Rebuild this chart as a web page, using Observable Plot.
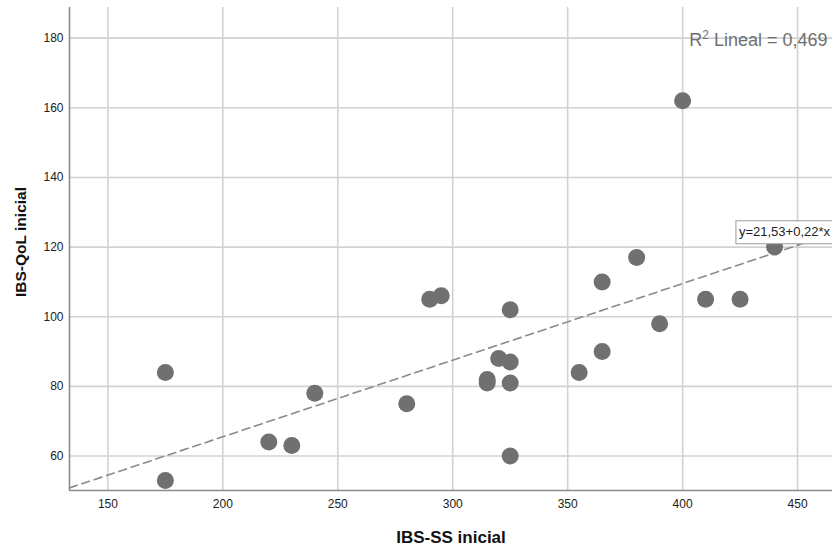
<!DOCTYPE html>
<html>
<head>
<meta charset="utf-8">
<script src="https://cdn.jsdelivr.net/npm/d3@7"></script>
<script src="https://cdn.jsdelivr.net/npm/@observablehq/plot@0.6"></script>
<style>
  html, body { margin: 0; padding: 0; background: #fff; overflow: hidden; }
  #chart svg { display: block; }
</style>
</head>
<body>
<div id="chart"></div>
<script>
// IBS-SS (severity score) vs IBS-QoL at baseline, one value per patient
const ibsSS  = [175, 175, 220, 230, 240, 280, 290, 295, 315, 315, 320, 325, 325, 325, 325, 355, 365, 365, 380, 390, 400, 410, 425, 440];
const ibsQoL = [ 53,  84,  64,  63,  78,  75, 105, 106,  82,  81,  88, 102,  87,  81,  60,  84, 110,  90, 117,  98, 162, 105, 105, 120];

// Linear fit reported on the chart
const fitIntercept = 21.53;
const fitSlope = 0.22;
const rSquared = 0.469;

const xTicks = [150, 200, 250, 300, 350, 400, 450];
const yTicks = [60, 80, 100, 120, 140, 160, 180];
const xDomain = [133.3, 465.2];
const yDomain = [50.1, 188.8];

const xTitle = "IBS-SS inicial";
const yTitle = "IBS-QoL inicial";
const fmt = (v, d) => v.toFixed(d).replace(".", ",");
const r2Rest = ` Lineal = ${fmt(rSquared, 3)}`;
const r2Label = `R2${r2Rest}`;
const eqLabel = `y=${fmt(fitIntercept, 2)}+${fmt(fitSlope, 2)}*x`;
// where the equation tag sits, in data units
const eqAnchor = {x: 424.5, y: 123.1};

const points = ibsSS.map((x, i) => ({x, y: ibsQoL[i]}));
const fitLine = xDomain.map(x => ({x, y: fitIntercept + fitSlope * x}));

const font = "'Liberation Sans', Arial, Helvetica, sans-serif";

const chart = Plot.plot({
  width: 832,
  height: 551,
  marginLeft: 69,
  marginRight: 0,
  marginTop: 7,
  marginBottom: 61,
  style: {fontFamily: font, fontSize: "12px", color: "#222", background: "#fff", overflow: "visible"},
  x: {domain: xDomain},
  y: {domain: yDomain},
  marks: [
    Plot.gridX(xTicks, {stroke: "#d2d2d2", strokeOpacity: 1, strokeWidth: 1.6}),
    Plot.gridY(yTicks, {stroke: "#d2d2d2", strokeOpacity: 1, strokeWidth: 1.6}),
    Plot.ruleX([xDomain[0]], {stroke: "#8c8c8c", strokeWidth: 1.6}),
    Plot.ruleY([yDomain[0]], {stroke: "#8c8c8c", strokeWidth: 1.6}),
    Plot.line(fitLine, {x: "x", y: "y", stroke: "#8a8a8a", strokeWidth: 1.6, strokeDasharray: "8,5"}),
    Plot.dot(points, {x: "x", y: "y", r: 8.5, fill: "#707070", stroke: "none"}),
    Plot.text([eqLabel], {
      x: () => eqAnchor.x, y: () => eqAnchor.y, text: d => d,
      textAnchor: "start", lineAnchor: "bottom", fontSize: 13, fill: "#222"
    }),
    Plot.text([r2Label], {
      frameAnchor: "top-right", text: d => d, textAnchor: "end", lineAnchor: "bottom",
      dx: -5, dy: 38, fontSize: 18, fill: "#707070"
    }),
    Plot.axisX(xTicks, {tickSize: 0, tickPadding: 9, label: null, fontSize: 12, fill: "#222"}),
    Plot.axisY(yTicks, {tickSize: 0, tickPadding: 6, label: null, fontSize: 12, fill: "#222"}),
    Plot.text([xTitle], {
      frameAnchor: "bottom", text: d => d, textAnchor: "middle", lineAnchor: "bottom", dy: 52,
      fontSize: 17, fontWeight: "bold", fill: "#111"
    }),
    Plot.text([yTitle], {
      frameAnchor: "left", text: d => d, textAnchor: "middle", lineAnchor: "bottom", rotate: -90,
      dx: -44, dy: -7, fontSize: 15.5, fontWeight: "bold", fill: "#111"
    })
  ]
});

document.getElementById("chart").append(chart);

const svgText = d3.select(chart).selectAll("text");

// white box with a grey border behind the equation tag
svgText.filter(function () { return this.textContent === eqLabel; }).each(function () {
  const bb = this.getBBox();
  d3.select(this.parentNode).insert("rect", "text")
    .attr("transform", this.getAttribute("transform"))
    .attr("x", bb.x - 3)
    .attr("y", bb.y - 3.5)
    .attr("width", bb.width + 12)
    .attr("height", bb.height + 8)
    .attr("fill", "#fff")
    .attr("stroke", "#9a9a9a")
    .attr("stroke-width", 1);
});

// raised "2" in the R² label
svgText.filter(function () { return this.textContent === r2Label; }).each(function () {
  const t = d3.select(this).text("R");
  t.append("tspan").attr("dy", -6.5).attr("font-size", 12).text("2");
  t.append("tspan").attr("dy", 6.5).text(r2Rest);
});
</script>
</body>
</html>
